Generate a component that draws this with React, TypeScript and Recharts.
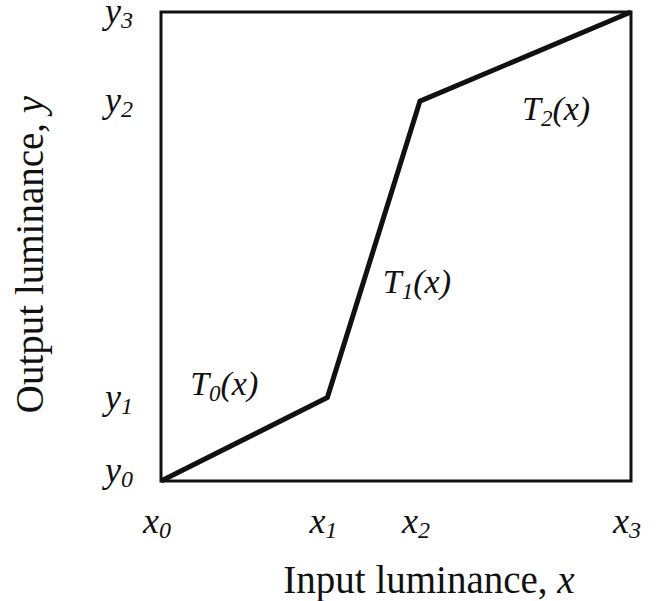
import React from 'react';
import {
  LineChart,
  Line,
  XAxis,
  YAxis,
  ReferenceArea,
  ReferenceDot,
  Label,
} from 'recharts';

// breakpoints of the piecewise-linear mapping (percent of range)
const xBreaks = [0, 35.4, 55.1, 100];
const yBreaks = [0, 17.8, 81.0, 100];
const tickSubs = ['0', '1', '2', '3'];

// segment labels T0(x), T1(x), T2(x)
const segNames = ['0', '1', '2'];
const segX = [6.2, 47.2, 76.8];
const segY = [18.3, 40.1, 77.0];

const curve = xBreaks.map((x, i) => ({ x, y: yBreaks[i] }));
const segLabels = segNames.map((s, i) => ({ sub: s, x: segX[i], y: segY[i] }));

const FONT = '"Liberation Serif", "Times New Roman", serif';
const INK = '#111';

function XTick(props: any) {
  const { x, y, payload } = props;
  const i = xBreaks.indexOf(payload.value);
  return (
    <text x={x - 4} y={y + 52} textAnchor="middle" fontFamily={FONT} fontStyle="italic" fill={INK}>
      <tspan fontSize={36}>x</tspan>
      <tspan fontSize={24} dy={5}>{tickSubs[i]}</tspan>
    </text>
  );
}

function YTick(props: any) {
  const { y, payload } = props;
  const i = yBreaks.indexOf(payload.value);
  const dy = i === 0 ? 1 : 11;
  return (
    <text x={133} y={y + dy} textAnchor="end" fontFamily={FONT} fontStyle="italic" fill={INK}>
      <tspan fontSize={36}>y</tspan>
      <tspan fontSize={24} dy={5}>{tickSubs[i]}</tspan>
    </text>
  );
}

function SegLabel(sub: string) {
  return (props: any) => {
    const { viewBox } = props;
    return (
      <text x={viewBox.x} y={viewBox.y} fontFamily={FONT} fontStyle="italic" fill={INK}>
        <tspan fontSize={34}>T</tspan>
        <tspan fontSize={23} dy={6}>{sub}</tspan>
        <tspan fontSize={34} dy={-6}>(x)</tspan>
      </text>
    );
  };
}

export default function App() {
  return (
    <div style={{ position: 'absolute', left: 0, top: 0, background: '#fff' }}>
      <LineChart
        width={660}
        height={601}
        data={curve}
        margin={{ top: 12, right: 29, bottom: 0, left: 0 }}
      >
        <XAxis
          dataKey="x"
          type="number"
          domain={[0, 100]}
          ticks={xBreaks}
          interval={0}
          height={120}
          axisLine={false}
          tickLine={false}
          tickSize={0}
          tickMargin={0}
          tick={<XTick />}
        >
          <Label
            content={(p: any) => {
              const vb = p.viewBox;
              return (
                <text
                  x={vb.x + vb.width / 2 + 33}
                  y={vb.y + 112}
                  textAnchor="middle"
                  fontFamily={FONT}
                  fontSize={39}
                  fill={INK}
                >
                  Input luminance, <tspan fontStyle="italic">x</tspan>
                </text>
              );
            }}
          />
        </XAxis>
        <YAxis
          type="number"
          domain={[0, 100]}
          ticks={yBreaks}
          interval={0}
          width={161}
          axisLine={false}
          tickLine={false}
          tickSize={0}
          tickMargin={0}
          tick={<YTick />}
        >
          <Label
            content={(p: any) => {
              const vb = p.viewBox;
              const cy = vb.y + vb.height / 2 + 8;
              return (
                <text
                  x={43}
                  y={cy}
                  transform={`rotate(-90, 43, ${cy})`}
                  textAnchor="middle"
                  fontFamily={FONT}
                  fontSize={39}
                  fill={INK}
                >
                  Output luminance, <tspan fontStyle="italic">y</tspan>
                </text>
              );
            }}
          />
        </YAxis>
        <ReferenceArea
          x1={0}
          x2={100}
          y1={0}
          y2={100}
          fill="none"
          stroke={INK}
          strokeWidth={3}
          ifOverflow="visible"
        />
        {segLabels.map((s) => (
          <ReferenceDot
            key={s.sub}
            x={s.x}
            y={s.y}
            r={0}
            stroke="none"
            fill="none"
            ifOverflow="visible"
            label={SegLabel(s.sub)}
          />
        ))}
        <Line
          type="linear"
          dataKey="y"
          stroke={INK}
          strokeWidth={5}
          dot={false}
          activeDot={false}
          isAnimationActive={false}
        />
      </LineChart>
    </div>
  );
}
